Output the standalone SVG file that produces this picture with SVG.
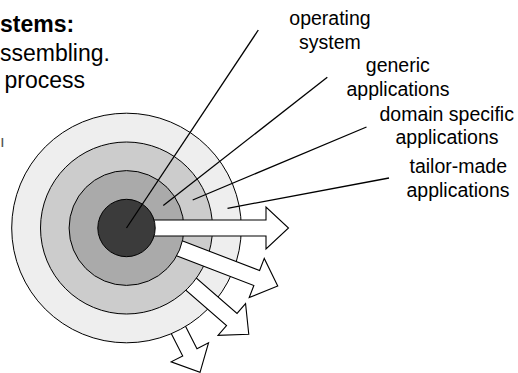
<svg xmlns="http://www.w3.org/2000/svg" xmlns:xlink="http://www.w3.org/1999/xlink" width="518" height="373" viewBox="0 0 518 373">
  <style>
    .title { font-family: "Liberation Sans", Arial, sans-serif; font-size: 23px; fill: #000; }
    .bold { font-weight: bold; }
    .label { font-family: "Liberation Sans", Arial, sans-serif; font-size: 19.5px; fill: #000; text-anchor: middle; }
    .ring { stroke: #000; stroke-width: 1; }
    .arrow { fill: #fff; stroke: #000; stroke-width: 1.1; stroke-linejoin: miter; }
    .pointer { stroke: #000; stroke-width: 1.3; fill: none; }
  </style>
  <defs>
    <!-- wide block arrow pointing right from the common centre -->
    <polygon id="blockArrow" points="0,-8 139.5,-8 139.5,-21 162,0 139.5,21 139.5,8 0,8"/>
  </defs>
  <rect width="518" height="373" fill="#fff"/>

  <!-- heading text at the left edge -->
  <g id="heading">
    <text class="title bold" x="0" y="32">stems:</text>
    <text class="title" x="0" y="61">ssembling.</text>
    <text class="title" x="4.5" y="88">process</text>
    <text class="title" x="0" y="147" style="font-size:17px;fill:#555">ı</text>
  </g>

  <!-- concentric layers, interleaved with the outgoing arrows -->
  <g id="layers" transform="translate(126.5,228)">
    <g id="arrow-tailor"><use xlink:href="#blockArrow" class="arrow" transform="rotate(63)"/></g>
    <g id="layer-tailor"><circle class="ring" r="114.8" fill="#eeeeee"/></g>
    <g id="arrow-domain"><use xlink:href="#blockArrow" class="arrow" transform="rotate(41)"/></g>
    <g id="layer-domain"><circle class="ring" r="86" fill="#cccccc"/></g>
    <g id="arrow-generic"><use xlink:href="#blockArrow" class="arrow" transform="rotate(21)"/></g>
    <g id="layer-generic"><circle class="ring" r="57.4" fill="#aaaaaa"/></g>
    <g id="arrow-os"><use xlink:href="#blockArrow" class="arrow"/></g>
    <g id="layer-os"><circle class="ring" r="28.7" fill="#3b3b3b"/></g>
  </g>

  <!-- pointer lines from labels to layers -->
  <g id="connectors">
    <line class="pointer" x1="126.5" y1="228" x2="258.3" y2="30"/>
    <line class="pointer" x1="163.3" y1="205.5" x2="327.3" y2="77.3"/>
    <line class="pointer" x1="192.7" y1="200" x2="366.5" y2="127"/>
    <line class="pointer" x1="227.5" y1="208.3" x2="389" y2="178"/>
  </g>

  <g id="label-os">
    <text class="label" x="330" y="25">operating</text>
    <text class="label" x="330" y="48.5">system</text>
  </g>
  <g id="label-generic">
    <text class="label" x="397.8" y="72">generic</text>
    <text class="label" x="398" y="95.5">applications</text>
  </g>
  <g id="label-domain">
    <text class="label" x="446.7" y="121">domain specific</text>
    <text class="label" x="447" y="144">applications</text>
  </g>
  <g id="label-tailor">
    <text class="label" x="458.3" y="173.3">tailor-made</text>
    <text class="label" x="458" y="196.5">applications</text>
  </g>
</svg>
